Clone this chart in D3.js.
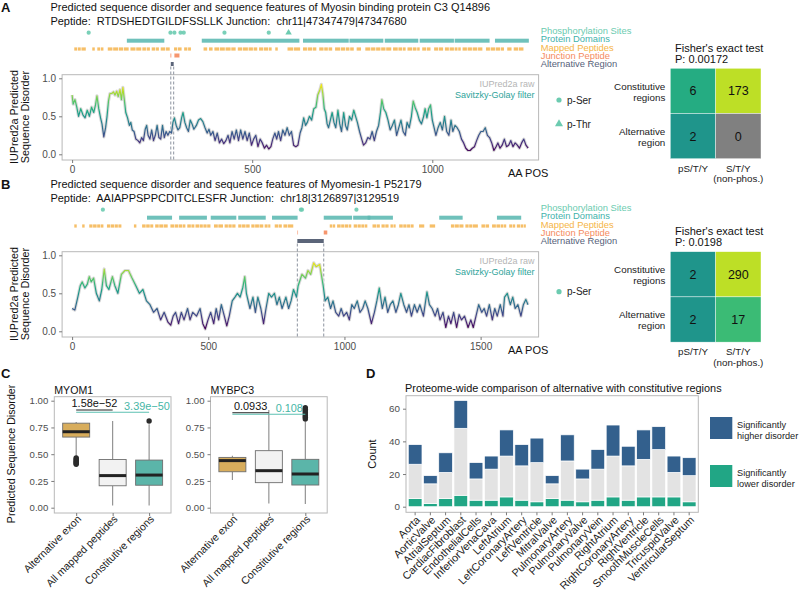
<!DOCTYPE html>
<html><head><meta charset="utf-8">
<script src="https://cdn.jsdelivr.net/npm/d3@7/dist/d3.min.js"></script>
<style>html,body{margin:0;padding:0;background:#fff}svg{display:block;font-family:"Liberation Sans",Arial,Helvetica,sans-serif}</style>
</head><body>
<svg id="fig" width="800" height="592"></svg>
<script>
// ================= DATA =================
const titleA = "Predicted sequence disorder and sequence features of Myosin binding protein C3 Q14896";
const peptideLineA = "Peptide:  RTDSHEDTGILDFSSLLK Junction:  chr11|47347479|47347680";
const titleB = "Predicted sequence disorder and sequence features of Myomesin-1 P52179";
const peptideLineB = "Peptide:  AAIAPPSPPCDITCLESFR Junction:  chr18|3126897|3129519";
const lenA = 1274, lenB = 1685;
const xTicksA = [0, 500, 1000], xTicksB = [0, 500, 1000, 1500];
const yTicksSeq = [0, 0.5, 1];

// [AA position, smoothed IUPred2a disorder]
const disorderA = [[0,0.78],[3,0.66],[8,0.72],[13,0.62],[18,0.5],[24,0.6],[30,0.52],[36,0.48],[42,0.58],[48,0.5],[54,0.62],[60,0.55],[65,0.65],[69,0.77],[74,0.6],[79,0.48],[83,0.4],[88,0.23],[93,0.35],[97,0.5],[101,0.7],[105,0.8],[110,0.8],[115,0.82],[119,0.78],[124,0.83],[128,0.76],[133,0.85],[137,0.72],[141,0.88],[145,0.72],[149,0.55],[154,0.48],[159,0.38],[163,0.42],[167,0.32],[172,0.3],[177,0.2],[183,0.18],[188,0.15],[193,0.22],[198,0.18],[203,0.33],[207,0.38],[211,0.25],[216,0.2],[221,0.32],[226,0.18],[231,0.25],[236,0.38],[241,0.22],[246,0.2],[251,0.38],[256,0.22],[261,0.3],[266,0.25],[271,0.3],[276,0.28],[280,0.42],[284,0.48],[289,0.38],[294,0.32],[299,0.35],[304,0.48],[308,0.55],[313,0.42],[318,0.35],[323,0.3],[328,0.45],[333,0.4],[338,0.33],[345,0.38],[351,0.45],[357,0.47],[363,0.43],[369,0.35],[375,0.28],[380,0.33],[385,0.25],[391,0.3],[397,0.18],[403,0.28],[409,0.15],[415,0.2],[421,0.14],[427,0.18],[433,0.25],[438,0.15],[444,0.3],[450,0.2],[456,0.32],[462,0.18],[468,0.32],[474,0.2],[480,0.3],[486,0.18],[492,0.28],[498,0.12],[504,0.2],[510,0.25],[516,0.1],[522,0.2],[528,0.15],[534,0.08],[540,0.12],[546,0.07],[552,0.1],[557,0.2],[563,0.28],[568,0.2],[573,0.3],[579,0.18],[585,0.32],[591,0.25],[597,0.35],[603,0.25],[609,0.3],[615,0.12],[621,0.1],[627,0.12],[633,0.28],[638,0.35],[643,0.48],[648,0.38],[653,0.42],[659,0.5],[665,0.45],[671,0.6],[677,0.62],[682,0.78],[688,0.85],[692,0.92],[696,0.8],[700,0.6],[704,0.55],[708,0.4],[712,0.35],[717,0.45],[722,0.55],[727,0.42],[732,0.35],[738,0.58],[743,0.4],[748,0.3],[754,0.55],[759,0.38],[764,0.32],[770,0.5],[776,0.45],[782,0.58],[787,0.5],[792,0.42],[798,0.3],[804,0.2],[809,0.12],[815,0.15],[821,0.22],[827,0.2],[833,0.3],[839,0.18],[845,0.3],[851,0.38],[856,0.55],[860,0.72],[865,0.6],[871,0.55],[877,0.45],[883,0.32],[889,0.38],[895,0.45],[901,0.25],[907,0.35],[913,0.45],[919,0.3],[925,0.25],[930,0.42],[936,0.35],[942,0.5],[947,0.7],[952,0.62],[958,0.55],[964,0.45],[970,0.4],[976,0.5],[980,0.6],[985,0.48],[990,0.6],[995,0.65],[1000,0.45],[1005,0.35],[1010,0.25],[1016,0.35],[1022,0.42],[1028,0.32],[1034,0.5],[1040,0.3],[1046,0.25],[1052,0.45],[1057,0.3],[1063,0.38],[1069,0.35],[1075,0.3],[1081,0.2],[1087,0.15],[1093,0.08],[1099,0.05],[1105,0.05],[1111,0.08],[1117,0.1],[1123,0.18],[1129,0.25],[1135,0.3],[1141,0.3],[1147,0.35],[1153,0.25],[1159,0.22],[1165,0.15],[1171,0.05],[1177,0.1],[1182,0.15],[1188,0.08],[1194,0.12],[1200,0.2],[1206,0.1],[1212,0.12],[1218,0.18],[1224,0.1],[1230,0.15],[1236,0.12],[1242,0.08],[1248,0.15],[1254,0.2],[1260,0.12],[1266,0.08]];

const disorderB = [[0,0.3],[10,0.28],[21,0.45],[30,0.6],[37,0.65],[47,0.57],[56,0.62],[63,0.72],[70,0.65],[79,0.7],[89,0.5],[100,0.4],[109,0.55],[118,0.82],[126,0.6],[135,0.55],[148,0.72],[157,0.6],[168,0.5],[181,0.75],[194,0.8],[207,0.8],[220,0.7],[234,0.6],[247,0.5],[260,0.55],[273,0.4],[286,0.35],[299,0.25],[312,0.3],[325,0.15],[338,0.25],[352,0.12],[362,0.08],[371,0.2],[380,0.25],[391,0.1],[401,0.25],[411,0.15],[424,0.3],[433,0.15],[443,0.25],[457,0.2],[470,0.3],[480,0.1],[489,0.03],[499,0.15],[509,0.25],[520,0.1],[529,0.3],[538,0.15],[548,0.35],[559,0.2],[568,0.07],[577,0.2],[588,0.4],[598,0.45],[607,0.5],[617,0.45],[627,0.58],[634,0.72],[640,0.5],[653,0.3],[664,0.45],[673,0.25],[682,0.45],[693,0.3],[703,0.1],[712,0.3],[722,0.5],[732,0.45],[743,0.5],[752,0.35],[761,0.45],[771,0.3],[785,0.45],[795,0.3],[804,0.4],[813,0.55],[824,0.45],[830,0.6],[844,0.75],[857,0.7],[866,0.8],[876,0.75],[887,0.9],[896,0.85],[909,0.88],[922,0.6],[929,0.4],[939,0.45],[949,0.3],[958,0.4],[968,0.25],[979,0.2],[988,0.3],[997,0.2],[1008,0.25],[1018,0.15],[1027,0.35],[1036,0.3],[1047,0.4],[1057,0.25],[1067,0.3],[1076,0.4],[1086,0.3],[1099,0.1],[1110,0.25],[1119,0.4],[1128,0.57],[1139,0.3],[1149,0.45],[1159,0.25],[1168,0.35],[1178,0.4],[1189,0.25],[1198,0.35],[1207,0.5],[1218,0.35],[1228,0.25],[1237,0.35],[1246,0.2],[1257,0.35],[1267,0.25],[1277,0.35],[1290,0.2],[1303,0.52],[1312,0.35],[1322,0.3],[1333,0.2],[1342,0.3],[1351,0.15],[1362,0.25],[1372,0.05],[1382,0.2],[1391,0.1],[1401,0.25],[1412,0.05],[1421,0.22],[1430,0.15],[1441,0.2],[1454,0.05],[1464,0.15],[1473,0.05],[1483,0.2],[1493,0.35],[1504,0.25],[1513,0.3],[1522,0.2],[1532,0.35],[1543,0.15],[1552,0.3],[1561,0.2],[1572,0.35],[1582,0.2],[1588,0.45],[1598,0.5],[1609,0.35],[1618,0.45],[1627,0.3],[1637,0.35],[1648,0.2],[1657,0.35],[1666,0.42],[1674,0.35]];

const phosSerA = [46, 273, 284, 301, 310, 423, 546];
const phosThrA = [601];
const domainsA = [[152,256],[360,631],[641,768],[770,864],[868,961],[965,1060],[1062,1159],[1174,1268]];
const peptidesA = [[6,14],[16,24],[26,38],[56,63],[70,78],[80,87],[99,112],[114,128],[130,142],[144,157],[162,176],[178,192],[195,205],[207,216],[221,231],[233,241],[246,258],[260,271],[283,292],[294,304],[311,320],[322,330],[365,375],[380,390],[395,408],[410,424],[426,440],[442,454],[460,472],[474,488],[490,502],[504,514],[519,530],[532,544],[546,554],[564,571],[598,614],[616,633],[641,652],[654,666],[668,678],[686,698],[700,710],[712,722],[730,744],[746,758],[760,770],[772,782],[790,802],[814,828],[830,842],[844,856],[858,870],[872,886],[891,904],[906,916],[918,926],[931,944],[946,956],[958,965],[972,983],[985,995],[1005,1016],[1018,1030],[1035,1046],[1048,1060],[1062,1070],[1072,1079],[1084,1096],[1098,1110],[1112,1125],[1127,1139],[1149,1160],[1162,1174],[1176,1188],[1190,1199],[1208,1220],[1226,1238],[1240,1253]];
const junctionA = [[272,276],[284,298]];
const altRegionA = [274, 282];

const phosSerB = [113, 840, 844, 1044];
const domainsB = [[275,367],[393,495],[509,603],[610,711],[734,828],[924,1028],[1032,1178],[1085,1095],[1348,1434],[1560,1649]];
const peptidesB = [[8,17],[37,46],[63,75],[77,90],[92,104],[106,115],[128,140],[142,155],[157,168],[170,181],[227,236],[257,270],[272,285],[287,298],[305,318],[320,335],[337,351],[361,375],[377,390],[392,404],[406,416],[423,436],[438,449],[453,466],[468,480],[482,494],[496,508],[521,535],[537,554],[560,572],[574,586],[588,600],[610,622],[624,637],[639,652],[658,670],[672,686],[688,702],[707,718],[720,728],[744,756],[758,770],[776,790],[792,812],[946,956],[958,966],[973,986],[988,1000],[1002,1014],[1016,1025],[1034,1046],[1048,1060],[1062,1072],[1074,1084],[1103,1116],[1118,1130],[1136,1148],[1150,1162],[1169,1178],[1180,1188],[1201,1214],[1216,1228],[1230,1242],[1244,1254],[1274,1293],[1313,1333],[1391,1404],[1406,1420],[1422,1437],[1444,1456],[1458,1470],[1472,1490],[1503,1516],[1518,1531],[1542,1556],[1558,1572],[1574,1584],[1586,1594],[1605,1616],[1618,1627],[1633,1645],[1647,1656],[1658,1666]];
const junctionB = [[826,829],[924,937]];
const altRegionB = [827, 924];

const featureLabels = ["Phosphorylation Sites","Protein Domains","Mapped Peptides","Junction Peptide","Alternative Region"];

// Fisher tables
const fisherRows = ["Constitutive regions", "Alternative region"];
const fisherCols = ["pS/T/Y", "S/T/Y (non-phos.)"];
const countsA = [[6, 173], [2, 0]];
const countsB = [[2, 290], [2, 17]];
const pValueA = "0.00172", pValueB = "0.0198";

// Panel C box statistics: [lower whisker, Q1, median, Q3, upper whisker]
const boxGroups = ["Alternative exon", "All mapped peptides", "Constitutive regions"];
const boxTicks = [0, 0.25, 0.5, 0.75, 1];
const myom1Stats = [[0.48,0.66,0.71,0.79,0.80],[0.02,0.205,0.30,0.45,0.81],[0.02,0.21,0.305,0.445,0.78]];
const myom1Outliers = [[0.465,0.455,0.445,0.435,0.425,0.415,0.405],[],[0.81]];
const mybpc3Stats = [[0.26,0.336,0.44,0.47,0.485],[0.04,0.234,0.346,0.533,0.913],[0.035,0.212,0.315,0.452,0.82]];
const mybpc3Outliers = [[],[],[0.83,0.845,0.86,0.875,0.89,0.905,0.92,0.935]];
const myom1Sig = [{from:0,to:1,y:0.913,label:"1.58e\u221252",teal:false,at:0.5},{from:0,to:2,y:0.892,label:"3.39e\u221250",teal:true,at:0.97}];
const mybpc3Sig = [{from:0,to:1,y:0.888,label:"0.0933",teal:false,at:0.5},{from:0,to:2,y:0.873,label:"0.108",teal:true,at:0.78}];

// Panel D
const tissues = ["Aorta","AorticValve","AtrialSeptum","CardiacFibroblast","EndothelialCells","InferiorVenaCava","LeftAtrium","LeftCoronaryArtery","LeftVentricle","MitralValve","PulmonaryArtery","PulmonaryValve","PulmonaryVein","RightAtrium","RightCoronaryArtery","RightVentricle","SmoothMuscleCells","TricuspidValve","VentricularSeptum"];
const lowerDisorder = [5,2,5,7,4,4,6,4,3,5,4,3,4,6,4,6,6,6,3];
const notSignificant = [21,12,16,41,13,19,25,21,24,9,24,14,19,25,21,23,29,15,16];
const higherDisorder = [12,5,12,17,10,8,16,13,15,5,16,6,12,19,12,18,14,10,11];
const countTicks = [0, 20, 40, 60];

// ================= DRAW =================
const svg = d3.select("#fig");
const FONT = '"Liberation Sans", Arial, Helvetica, sans-serif';
const TICKTXT = "#4d4d4d", BORDER = "#b8b8b8", TICK = "#7a7a7a";
const featColors = ["#6ccbb0", "#3fb2ab", "#f5b547", "#f58b5e", "#56627a"];

function styleAxis(g, fs) {
  g.select(".domain").remove();
  g.selectAll(".tick line").attr("stroke", TICK);
  g.selectAll(".tick text").attr("fill", TICKTXT).attr("font-size", fs).attr("font-family", FONT);
}
function label(g, x, y, str, fs, opt = {}) {
  const t = g.append("text").attr("x", x).attr("y", y).attr("font-size", fs)
    .attr("fill", opt.fill || "#111").attr("text-anchor", opt.anchor || "start").text(str);
  if (opt.bold) t.attr("font-weight", "bold");
  if (opt.pre) t.style("white-space", "pre");
  return t;
}

// viridis gradient for disorder line
const defs = svg.append("defs");
const vir = d3.scaleSequential(d3.interpolateViridis).domain([0.03, 0.93]);
const ySeqProto = d3.scaleLinear().domain([0, 1]).range([154.3, 78.3]);
const grad = defs.append("linearGradient").attr("id", "virg").attr("gradientUnits", "userSpaceOnUse")
  .attr("x1", 0).attr("x2", 0).attr("y1", ySeqProto(0)).attr("y2", ySeqProto(1));
d3.range(0, 1.001, 0.05).forEach(t => grad.append("stop").attr("offset", t).attr("stop-color", vir(t)));

function seqPanel(o) {
  const g = svg.append("g").attr("transform", `translate(0,${o.dy})`);
  const x = d3.scaleLinear().domain([0, o.len]).range([72.1, 531]);
  const y = ySeqProto;
  label(g, 1, 12, o.letter, 13, {bold: true});
  label(g, 50.4, 11, o.title, 11);
  label(g, 50.4, 25, o.pepLine, 11, {pre: true});
  const rows = [32.7, 40.7, 49, 55.5, 64];
  g.selectAll(".ps").data(o.phosSer).join("circle").attr("cx", d => x(d)).attr("cy", rows[0]).attr("r", 2.1).attr("fill", featColors[0]).attr("opacity", 0.9);
  g.selectAll(".pt").data(o.phosThr || []).join("path").attr("d", d3.symbol(d3.symbolTriangle, 18)())
    .attr("transform", d => `translate(${x(d)},${rows[0]})`).attr("fill", featColors[0]);
  g.selectAll(".dm").data(o.domains).join("rect").attr("x", d => x(d[0])).attr("width", d => x(d[1]) - x(d[0]))
    .attr("y", rows[1] - 2).attr("height", 4).attr("fill", "#5fbab4").attr("opacity", 0.9);
  g.selectAll(".pp").data(o.peptides).join("rect").attr("x", d => x(d[0])).attr("width", d => x(d[1]) - x(d[0]))
    .attr("y", rows[2] - 1.6).attr("height", 3.2).attr("fill", "#f3a935").attr("opacity", 0.75);
  g.selectAll(".jp").data(o.junction).join("rect").attr("x", d => x(d[0])).attr("width", d => Math.max(1, x(d[1]) - x(d[0])))
    .attr("y", rows[3] - 2).attr("height", 4).attr("fill", featColors[3]).attr("opacity", (d, i) => i === 0 ? 0.55 : 0.9);
  g.append("rect").attr("x", x(o.alt[0])).attr("width", x(o.alt[1]) - x(o.alt[0])).attr("y", rows[4] - 2)
    .attr("height", 4).attr("fill", "#5b6579");
  featureLabels.forEach((s, i) => label(g, 540.7, 34 + i * 8.35, s, 9.4, {fill: featColors[i]}));
  g.append("rect").attr("x", 62.1).attr("y", 74.7).attr("width", 538.6 - 62.1).attr("height", 160 - 74.7)
    .attr("fill", "none").attr("stroke", BORDER).attr("stroke-width", 1);
  o.alt.forEach(v => g.append("line").attr("x1", x(v)).attr("x2", x(v)).attr("y1", rows[4] + 2.5).attr("y2", 160)
    .attr("stroke", "#7f8794").attr("stroke-width", 0.9).attr("stroke-dasharray", "3,2"));
  const line = d3.line().x(d => x(d[0])).y(d => y(d[1]));
  g.append("path").datum(o.disorder).attr("d", line).attr("fill", "none").attr("stroke", "#d9d9d9").attr("stroke-width", 3.2).attr("stroke-linejoin", "round");
  g.append("path").datum(o.disorder).attr("d", line).attr("fill", "none").attr("stroke", "url(#virg)").attr("stroke-width", 1.2).attr("stroke-linejoin", "round");
  label(g, 534.6, 87, "IUPred2a raw", 9, {anchor: "end", fill: "#b5b5b5"});
  label(g, 534.6, 97.5, "Savitzky-Golay filter", 9, {anchor: "end", fill: "#2ea39a"});
  const ax = g.append("g").attr("transform", "translate(0,160)").call(d3.axisBottom(x).tickValues(o.xTicks).tickFormat(d3.format("d")).tickSize(3).tickPadding(3));
  styleAxis(ax, 10);
  const ay = g.append("g").attr("transform", "translate(62.1,0)").call(d3.axisLeft(y).tickValues(yTicksSeq).tickFormat(d3.format(".1f")).tickSize(3).tickPadding(3));
  styleAxis(ay, 10);
  label(g, 508, 177, "AA POS", 11);
  const yt = g.append("text").attr("transform", "translate(17.5,117) rotate(-90)").attr("text-anchor", "middle").attr("font-size", 10.8).attr("fill", "#111");
  yt.append("tspan").attr("x", 0).attr("dy", 0).text("IUPred2a Predicted");
  yt.append("tspan").attr("x", 0).attr("dy", 11.5).text("Sequence Disorder");
}

seqPanel({dy: 0, letter: "A", len: lenA, title: titleA, pepLine: peptideLineA, disorder: disorderA, phosSer: phosSerA, phosThr: phosThrA,
  domains: domainsA, peptides: peptidesA, junction: junctionA, alt: altRegionA, xTicks: xTicksA});
seqPanel({dy: 177, letter: "B", len: lenB, title: titleB, pepLine: peptideLineB, disorder: disorderB, phosSer: phosSerB, phosThr: [],
  domains: domainsB, peptides: peptidesB, junction: junctionB, alt: altRegionB, xTicks: xTicksB});

svg.append("circle").attr("cx", 559).attr("cy", 100).attr("r", 2.6).attr("fill", featColors[0]);
label(svg, 567, 103.5, "p-Ser", 10, {fill: "#222"});
svg.append("path").attr("d", d3.symbol(d3.symbolTriangle, 28)()).attr("transform", "translate(559,124)").attr("fill", featColors[0]);
label(svg, 567, 127.5, "p-Thr", 10, {fill: "#222"});
svg.append("circle").attr("cx", 559).attr("cy", 291.7).attr("r", 2.6).attr("fill", featColors[0]);
label(svg, 567, 295.2, "p-Ser", 10, {fill: "#222"});

function fisherPanel(dy, counts, p) {
  const g = svg.append("g").attr("transform", `translate(0,${dy})`);
  const xb = d3.scaleBand().domain(fisherCols).range([670.3, 761]);
  const yb = d3.scaleBand().domain(fisherRows).range([68.3, 158.7]);
  const nz = counts.flat().filter(v => v > 0);
  const t = d3.scaleLog().domain([d3.min(nz), d3.max(nz)]).range([0.52, 0.9]);
  const cells = [];
  fisherRows.forEach((r, i) => fisherCols.forEach((c, j) => cells.push({r, c, v: counts[i][j]})));
  g.selectAll(".cell").data(cells).join("rect").attr("x", d => xb(d.c)).attr("y", d => yb(d.r))
    .attr("width", xb.bandwidth()).attr("height", yb.bandwidth())
    .attr("fill", d => d.v > 0 ? d3.interpolateViridis(t(d.v)) : "#808080").attr("stroke", "#fff").attr("stroke-width", 0.4);
  g.selectAll(".num").data(cells).join("text").attr("x", d => xb(d.c) + xb.bandwidth() / 2).attr("y", d => yb(d.r) + yb.bandwidth() / 2)
    .attr("dy", "0.36em").attr("text-anchor", "middle").attr("font-size", 12.5).attr("fill", "#111").text(d => d.v);
  label(g, 675, 51.5, "Fisher's exact test", 11);
  label(g, 675, 62.5, "P: " + p, 11);
  const rowLines = [["Constitutive", "regions"], ["Alternative", "region"]];
  fisherRows.forEach((r, i) => {
    const cy = yb(r) + yb.bandwidth() / 2;
    label(g, 665.3, cy - 1, rowLines[i][0], 9.8, {anchor: "end", fill: "#222"});
    label(g, 665.3, cy + 10, rowLines[i][1], 9.8, {anchor: "end", fill: "#222"});
  });
  const colLines = [["pS/T/Y"], ["S/T/Y", "(non-phos.)"]];
  fisherCols.forEach((c, j) => colLines[j].forEach((s, k) =>
    label(g, xb(c) + xb.bandwidth() / 2, 171.8 + k * 10.5, s, 9.8, {anchor: "middle", fill: "#222"})));
}
fisherPanel(0, countsA, pValueA);
fisherPanel(183.4, countsB, pValueB);

// Panel C
label(svg, 1, 377.5, "C", 13, {bold: true});
const yBox = d3.scaleLinear().domain([0, 1]).range([507.7, 400.7]);
const boxFill = ["#d8ad5c", "#f2f2f2", "#5bb5a9"];
function boxPanel(name, left, stats, outliers, sigs) {
  const g = svg.append("g");
  const x = d3.scalePoint().domain(boxGroups).range([left, left + 116.7]).padding(0.6);
  const bw = 27;
  label(g, left, 394, name, 10.6);
  g.append("rect").attr("x", left).attr("y", 396.7).attr("width", 116.7).attr("height", 513 - 396.7).attr("fill", "none").attr("stroke", BORDER);
  boxGroups.forEach((grp, i) => {
    const s = stats[i], cx = x(grp);
    g.append("line").attr("x1", cx).attr("x2", cx).attr("y1", yBox(s[0])).attr("y2", yBox(s[1])).attr("stroke", "#8a8a8a").attr("stroke-width", 1.1);
    g.append("line").attr("x1", cx).attr("x2", cx).attr("y1", yBox(s[3])).attr("y2", yBox(s[4])).attr("stroke", "#8a8a8a").attr("stroke-width", 1.1);
    g.append("rect").attr("x", cx - bw / 2).attr("width", bw).attr("y", yBox(s[3])).attr("height", yBox(s[1]) - yBox(s[3]))
      .attr("fill", boxFill[i]).attr("stroke", "#6e6e6e").attr("stroke-width", 0.9);
    g.append("line").attr("x1", cx - bw / 2).attr("x2", cx + bw / 2).attr("y1", yBox(s[2])).attr("y2", yBox(s[2])).attr("stroke", "#222").attr("stroke-width", 3);
    g.selectAll(null).data(outliers[i]).join("circle").attr("cx", cx).attr("cy", d => yBox(d)).attr("r", 2.7).attr("fill", "#2b2b2b");
    g.append("text").attr("transform", `translate(${cx + 3},${517}) rotate(-45)`).attr("text-anchor", "end").attr("dy", "0.35em")
      .attr("font-size", 10.6).attr("fill", "#222").text(grp);
  });
  sigs.forEach(s => {
    const x0 = x(boxGroups[s.from]), x1 = x(boxGroups[s.to]), yy = yBox(s.y);
    const c = s.teal ? "#5cc0b2" : "#222";
    g.append("line").attr("x1", x0).attr("x2", x1).attr("y1", yy).attr("y2", yy).attr("stroke", c).attr("stroke-width", 1.1);
    label(g, x0 + (x1 - x0) * s.at, yy - (s.teal ? 2.2 : 3), s.label, 10.9, {anchor: "middle", fill: s.teal ? "#46b6a6" : "#111"});
  });
  const ay = g.append("g").attr("transform", `translate(${left},0)`).call(d3.axisLeft(yBox).tickValues(boxTicks).tickFormat(d3.format(".2f")).tickSize(3).tickPadding(3));
  styleAxis(ay, 9.6);
  const ax = g.append("g").attr("transform", "translate(0,513)").call(d3.axisBottom(x).tickSize(3).tickFormat(""));
  styleAxis(ax, 9.6);
}
boxPanel("MYOM1", 54.3, myom1Stats, myom1Outliers, myom1Sig);
boxPanel("MYBPC3", 210.5, mybpc3Stats, mybpc3Outliers, mybpc3Sig);
svg.append("text").attr("transform", "translate(14.5,454) rotate(-90)").attr("text-anchor", "middle").attr("font-size", 10.6).attr("fill", "#111").text("Predicted Sequence Disorder");

// Panel D
label(svg, 366, 378, "D", 13, {bold: true});
label(svg, 405, 391.5, "Proteome-wide comparison of alternative with constitutive regions", 10.9);
const xD = d3.scaleBand().domain(tissues).range([406, 698.3]).paddingInner(0.1).paddingOuter(0.15);
const yD = d3.scaleLinear().domain([0, 60]).range([506.7, 408.7]);
const stackRows = tissues.map((t, i) => ({t, lower: lowerDisorder[i], ns: notSignificant[i], higher: higherDisorder[i]}));
const stacked = d3.stack().keys(["lower", "ns", "higher"])(stackRows);
const dColors = {lower: "#21a685", ns: "#e3e3e3", higher: "#33608d"};
const gD = svg.append("g");
gD.append("rect").attr("x", 406).attr("y", 395.7).attr("width", 698.3 - 406).attr("height", 512.3 - 395.7).attr("fill", "none").attr("stroke", BORDER);
stacked.forEach(layer => {
  gD.selectAll(null).data(layer).join("rect").attr("x", d => xD(d.data.t)).attr("width", xD.bandwidth())
    .attr("y", d => yD(d[1])).attr("height", d => yD(d[0]) - yD(d[1])).attr("fill", dColors[layer.key])
    .attr("stroke", "#fff").attr("stroke-width", 0.7);
});
const ayD = gD.append("g").attr("transform", "translate(406,0)").call(d3.axisLeft(yD).tickValues(countTicks).tickSize(3).tickPadding(3));
styleAxis(ayD, 9.8);
const axD = gD.append("g").attr("transform", "translate(0,512.3)").call(d3.axisBottom(xD).tickSize(3).tickFormat(""));
styleAxis(axD, 9.8);
gD.selectAll(".xl").data(tissues).join("text")
  .attr("transform", d => `translate(${xD(d) + xD.bandwidth() / 2 + 3},${518}) rotate(-45)`)
  .attr("text-anchor", "end").attr("dy", "0.35em").attr("font-size", 10.8).attr("fill", "#222").text(d => d);
svg.append("text").attr("transform", "translate(376,454) rotate(-90)").attr("text-anchor", "middle").attr("font-size", 11).attr("fill", "#111").text("Count");
const legD = [{k: "higher", lines: ["Significantly", "higher disorder"], y: 417}, {k: "lower", lines: ["Significantly", "lower disorder"], y: 465}];
legD.forEach(l => {
  svg.append("rect").attr("x", 710).attr("y", l.y).attr("width", 22.3).attr("height", 22).attr("fill", dColors[l.k]);
  l.lines.forEach((s, k) => label(svg, 737, l.y + 10.8 + k * 11.3, s, 9.2, {fill: "#222"}));
});
</script>
</body></html>
